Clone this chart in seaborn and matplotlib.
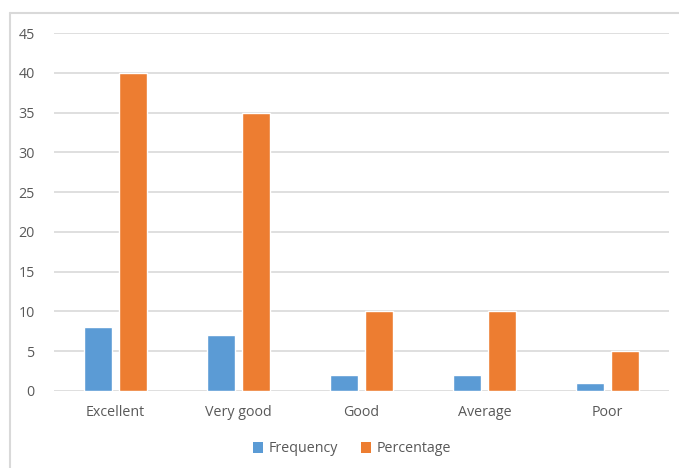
import matplotlib
matplotlib.use("Agg")
import matplotlib.pyplot as plt
from matplotlib.lines import Line2D
from matplotlib.patches import Patch
import seaborn as sns
import pandas as pd

categories = ["Excellent", "Very good", "Good", "Average", "Poor"]
frequency = [8, 7, 2, 2, 1]
percentage = [40, 35, 10, 10, 5]
series_names = ["Frequency", "Percentage"]
yticks = [0, 5, 10, 15, 20, 25, 30, 35, 40, 45]

df = pd.DataFrame({
    "Category": categories * 2,
    "Series": [series_names[0]] * len(categories) + [series_names[1]] * len(categories),
    "Value": frequency + percentage,
})

sns.set_theme(style="white")
plt.rcParams["font.family"] = ["Open Sans", "DejaVu Sans"]

colors = ["#5B9BD5", "#ED7D31"]
text_color = "#595959"
grid_color = "#D9D9D9"

fig = plt.figure(figsize=(6.79, 4.68), dpi=100)
ax = fig.add_axes([54 / 679, 77 / 468, 615 / 679, 358 / 468])

sns.barplot(data=df, x="Category", y="Value", hue="Series", palette=colors,
            width=0.57, gap=0.22, ax=ax, legend=False, saturation=1)

ax.set_ylim(0, 45)
ax.set_xlim(-0.5, len(categories) - 0.5)
ax.set_yticks(yticks)
ax.set_xlabel("")
ax.set_ylabel("")
for s in ax.spines.values():
    s.set_visible(False)
ax.yaxis.grid(True, color=grid_color, linewidth=1.2)
ax.set_axisbelow(True)
ax.tick_params(axis="y", length=0, pad=14, labelsize=10.3, labelcolor=text_color)
ax.tick_params(axis="x", length=0, pad=10, labelsize=10.3, labelcolor=text_color)

handles = [Patch(facecolor=c, edgecolor="none") for c in colors]
fig.legend(handles, series_names, loc="center", bbox_to_anchor=(352 / 679, 1 - 449 / 468),
           ncol=2, frameon=False, fontsize=10.3, labelcolor=text_color,
           handlelength=0.7, handleheight=0.7, handletextpad=0.4, columnspacing=1.6)

# chart frame (top and left edges visible)
fig.add_artist(Line2D([10 / 679, 10 / 679], [0, 1 - 13 / 468], transform=fig.transFigure,
                      color=grid_color, linewidth=1.5))
fig.add_artist(Line2D([10 / 679, 1], [1 - 13 / 468, 1 - 13 / 468], transform=fig.transFigure,
                      color=grid_color, linewidth=1.5))

fig.savefig("out.png", dpi=100)
